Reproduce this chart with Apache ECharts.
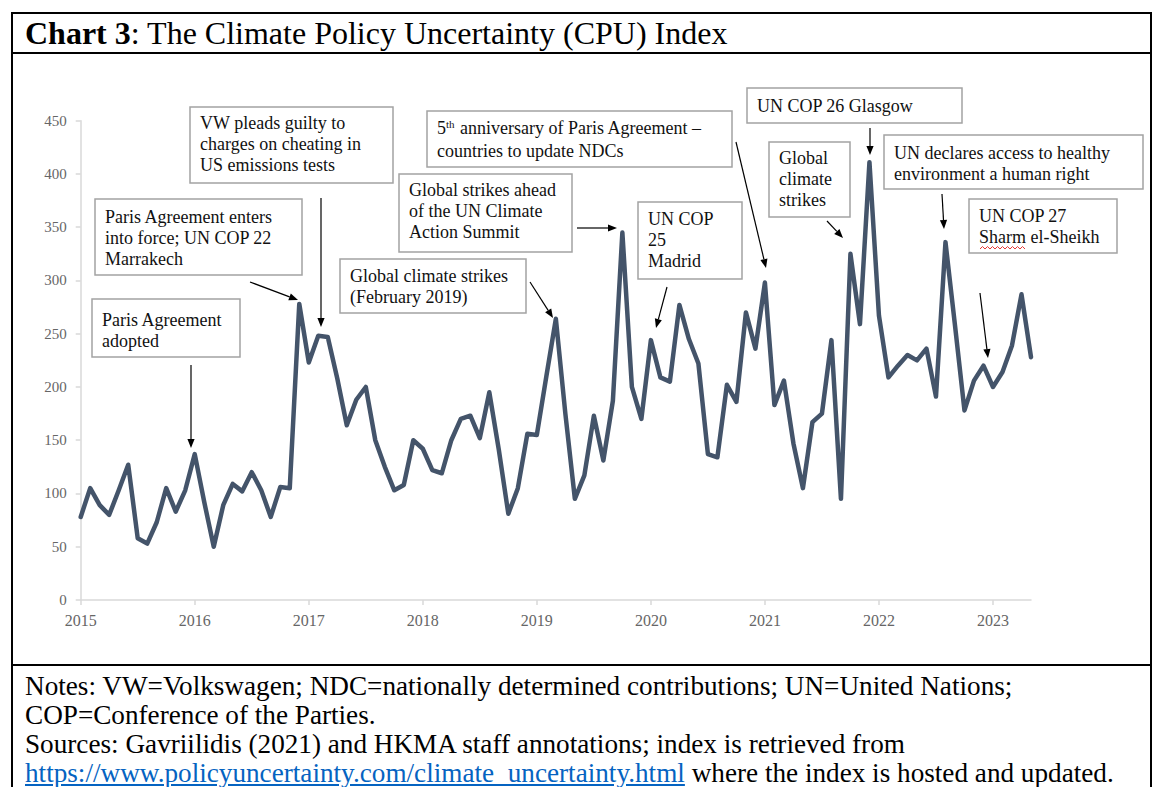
<!DOCTYPE html>
<html>
<head>
<meta charset="utf-8">
<script src="https://cdn.jsdelivr.net/npm/echarts@6/dist/echarts.min.js"></script>
<style>
  html, body { margin:0; padding:0; background:#fff; }
  body { width:1153px; height:787px; overflow:hidden; position:relative; font-family:'Liberation Serif','Times New Roman',serif; color:#000; }
  #frame { position:absolute; left:11px; top:12px; width:1137px; height:800px; border:2px solid #000; }
  .hline { position:absolute; left:11px; width:1141px; height:2px; background:#000; }
  #title { position:absolute; left:25px; top:14px; height:38px; line-height:38px; font-size:32px; white-space:nowrap; }
  #notes { position:absolute; left:25px; top:672px; font-size:27.2px; line-height:29px; white-space:nowrap; }
  #notes a { color:#0563c1; text-decoration:underline; }
  #chart { position:absolute; left:0; top:0; width:1153px; height:787px; }
</style>
</head>
<body>
<div id="frame"></div>
<div class="hline" style="top:52px"></div>
<div class="hline" style="top:664px"></div>
<div id="title"><b>Chart 3</b>: The Climate Policy Uncertainty (CPU) Index</div>
<div id="notes">Notes: VW=Volkswagen; NDC=nationally determined contributions; UN=United Nations;<br>COP=Conference of the Parties.<br>Sources: Gavriilidis (2021) and HKMA staff annotations; index is retrieved from<br><a>https://www.policyuncertainty.com/climate_uncertainty.html</a> where the index is hosted and updated.</div>
<div id="chart"></div>
<script>
// ---- data ----
const years = ['2015','2016','2017','2018','2019','2020','2021','2022','2023'];
const cpu2015 = [78, 105, 89, 80, 103, 127, 58, 53, 73, 105, 83, 103];
const cpu2016 = [137, 92, 50, 89, 109, 102, 120, 103, 78, 106, 105, 278];
const cpu2017 = [223, 248, 247, 208, 164, 188, 200, 150, 125, 103, 108, 150];
const cpu2018 = [142, 122, 119, 150, 170, 173, 152, 195, 141, 81, 105, 156];
const cpu2019 = [155, 210, 264, 175, 95, 117, 173, 131, 187, 345, 200, 170];
const cpu2020 = [244, 209, 205, 277, 245, 222, 137, 134, 202, 186, 270, 236];
const cpu2021 = [298, 183, 206, 147, 105, 167, 175, 244, 95, 325, 259, 411];
const cpu2022 = [267, 209, 220, 230, 225, 236, 191, 336, 258, 178, 206, 220];
const cpu2023 = [200, 214, 239, 287, 228];
const yTicks = [0, 50, 100, 150, 200, 250, 300, 350, 400, 450];

const eventLabels = [
  ['Paris Agreement', 'adopted'],
  ['Paris Agreement enters', 'into force; UN COP 22', 'Marrakech'],
  ['VW pleads guilty to', 'charges on cheating in', 'US emissions tests'],
  ['Global climate strikes', '(February 2019)'],
  ['Global strikes ahead', 'of the UN Climate', 'Action Summit'],
  ['{n|5}{s|th}{n| anniversary of Paris Agreement –}', '{n|countries to update NDCs}'],
  ['UN COP', '25', 'Madrid'],
  ['UN COP 26 Glasgow'],
  ['Global', 'climate', 'strikes'],
  ['UN declares access to healthy', 'environment a human right'],
  ['UN COP 27', 'Sharm el-Sheikh']
];

// ---- layout (annotation geometry, pixels) ----
const boxes = [
  {x:92,  y:299, w:148, h:58, ty:309},
  {x:95,  y:199, w:207, h:76, ty:206},
  {x:190, y:107, w:203, h:76, ty:112},
  {x:340, y:259, w:186, h:54, ty:265},
  {x:399, y:174, w:173, h:78, ty:179},
  {x:427, y:111, w:305, h:56, ty:116, rich:true},
  {x:638, y:202, w:104, h:77, ty:208},
  {x:747, y:88,  w:215, h:35, ty:95},
  {x:769, y:142, w:81,  h:75, ty:147},
  {x:884, y:135, w:259, h:54, ty:142},
  {x:969, y:199, w:148, h:54, ty:205}
];
const arrows = [
  [191,365,191,448],
  [250,282,298,300],
  [321,198,321,327],
  [530,282,553,318],
  [577,228,617,228],
  [736,142,766,268],
  [667,287,656,328],
  [870,128,870,155],
  [827,221,843,238],
  [942,194,944,229],
  [980,293,988,358]
];

const values = [].concat(cpu2015, cpu2016, cpu2017, cpu2018, cpu2019, cpu2020, cpu2021, cpu2022, cpu2023);
const categories = [];
years.forEach(y => { for (let m = 1; m <= 12; m++) categories.push(y + '-' + (m < 10 ? '0' + m : m)); });
categories.length = values.length;

const FONT = "'Liberation Serif','Times New Roman',serif";

function arrowEls(a) {
  const [x1, y1, x2, y2] = a;
  const dx = x2 - x1, dy = y2 - y1, L = Math.hypot(dx, dy);
  const ux = dx / L, uy = dy / L, hl = 9, hw = 3.6;
  const bx = x2 - ux * hl, by = y2 - uy * hl, px = -uy, py = ux;
  return [
    {type:'line', shape:{x1:x1, y1:y1, x2:bx, y2:by}, style:{stroke:'#000', lineWidth:1.2}, z:10},
    {type:'polygon', shape:{points:[[x2,y2],[bx+px*hw,by+py*hw],[bx-px*hw,by-py*hw]]}, style:{fill:'#000'}, z:10}
  ];
}

const graphics = [];
boxes.forEach((b, i) => {
  graphics.push({type:'rect', shape:{x:b.x, y:b.y, width:b.w, height:b.h},
    style:{fill:'#fff', stroke:'#a3a3a3', lineWidth:1.5}, z:5});
  const st = {text: eventLabels[i].join('\n'), x:b.x + 10, y:b.ty, fill:'#111',
    font: '18px ' + FONT, lineHeight:21, textVerticalAlign:'top'};
  if (b.rich) {
    st.rich = {n:{fontSize:18, fontFamily:FONT, lineHeight:23, fill:'#111', color:'#111'},
               s:{fontSize:11, fontFamily:FONT, lineHeight:23, verticalAlign:'top', fill:'#111', color:'#111', padding:[2,1,0,0]}};
  }
  graphics.push({type:'text', style:st, z:6});
});
arrows.forEach(a => arrowEls(a).forEach(e => graphics.push(e)));
// spell-check squiggle under "Sharm"
const sq = [];
for (let x = 980, k = 0; x <= 1027; x += 2.5, k++) sq.push([x, k % 2 ? 246.5 : 249]);
graphics.push({type:'polyline', shape:{points:sq}, style:{stroke:'#e53935', lineWidth:1, fill:null}, z:7});

const chart = echarts.init(document.getElementById('chart'), null, {renderer:'svg'});
chart.setOption({
  animation:false,
  backgroundColor:'transparent',
  grid:{left:80.7, right:122, top:120.7, bottom:187, containLabel:false},
  xAxis:{
    type:'category', data:categories, boundaryGap:false,
    axisLine:{lineStyle:{color:'#d9d9d9', width:1.5}},
    axisTick:{show:true, interval:11, length:5, lineStyle:{color:'#d9d9d9', width:1.5}},
    axisLabel:{interval:11, formatter:v => v.slice(0,4), color:'#666', fontFamily:FONT, fontSize:16, margin:12},
    splitLine:{show:false}
  },
  yAxis:{
    type:'value', min:yTicks[0], max:yTicks[yTicks.length-1], interval:yTicks[1]-yTicks[0],
    axisLine:{show:true, lineStyle:{color:'#d9d9d9', width:1.5}},
    axisTick:{show:true, length:5, lineStyle:{color:'#d9d9d9', width:1.5}},
    axisLabel:{color:'#666', fontFamily:FONT, fontSize:15, margin:14},
    splitLine:{show:false}
  },
  series:[{
    type:'line', data:values, symbol:'none', smooth:false,
    lineStyle:{color:'#44546a', width:4.5, join:'round', cap:'round'}, z:3
  }],
  graphic:graphics
});
</script>
</body>
</html>
